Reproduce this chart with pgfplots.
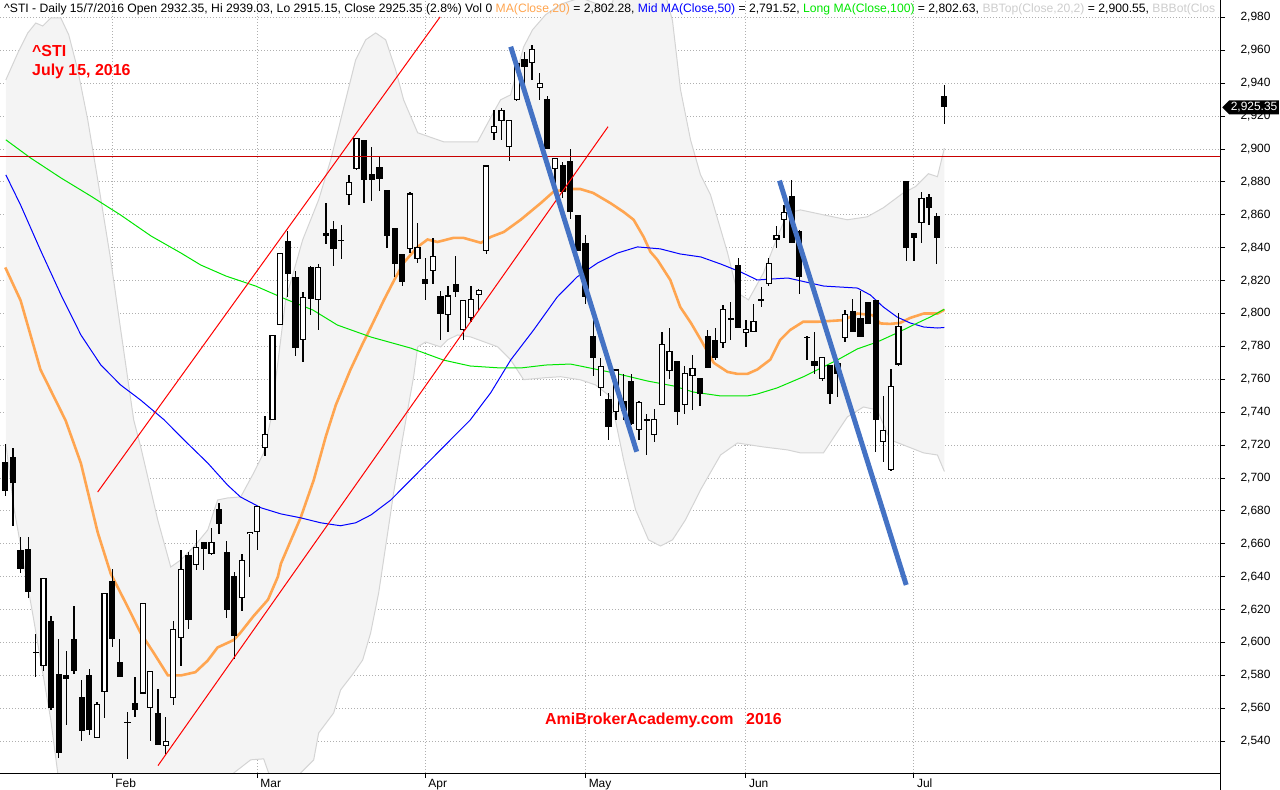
\documentclass[border=0pt]{standalone}
\usepackage{pgfplots}
\pgfplotsset{compat=1.18}
\usepackage{pgfplotstable}
\usepgfplotslibrary{fillbetween}
\usetikzlibrary{shapes.symbols}
\usepackage{fontspec}
\setmainfont{Liberation Sans}
\definecolor{maorange}{RGB}{255,165,80}
\definecolor{mablue}{RGB}{0,0,255}
\definecolor{magreen}{RGB}{0,230,0}
\definecolor{bandfill}{RGB}{244,244,244}
\definecolor{bandline}{RGB}{212,212,212}
\definecolor{trendblue}{RGB}{68,114,196}
\definecolor{gridc}{RGB}{175,175,175}
\definecolor{bbtext}{RGB}{205,205,205}
\definecolor{hlred}{RGB}{200,0,0}

\pgfplotstableread{
i o h l c
0 2710 2721 2689 2692
1 2713 2718 2671 2697
2 2656 2664 2642 2645
3 2657 2664 2627 2631
4 2594.5 2605 2579 2593.5
5 2586 2639 2583 2639
6 2613 2616 2559 2560
7 2581 2602 2530 2533
8 2580 2595 2550 2578
9 2602 2622 2581 2583
10 2567 2577 2540 2546
11 2580 2584 2544 2547
12 2542 2564 2542 2562.5
13 2570 2630 2554 2630
14 2637.5 2645 2597.5 2602
15 2588 2602 2579 2579
16 2552 2558 2529 2551
17 2563 2579 2555 2559
18 2569 2624 2569 2624
19 2560 2583 2540 2583
20 2557 2572 2538 2538
21 2537 2555 2532 2540
22 2566 2613 2562 2608
23 2603 2656 2586 2645
24 2653 2655 2608 2614
25 2647 2668.5 2644 2658
26 2661 2661 2644 2657
27 2654 2669.5 2653 2661
28 2681 2685 2666 2672
29 2655 2662 2615 2620
30 2640.5 2643 2590 2604
31 2627 2654 2619 2650
32 2666 2667.5 2640 2667
33 2667 2683 2656 2683
34 2718 2738 2713.5 2727
35 2735 2787 2735 2787
36 2793 2837 2793 2837
37 2844 2850 2810 2824
38 2822 2826 2774 2779
39 2784 2813 2770.5 2810
40 2828 2829 2799 2809
41 2808 2830 2790 2828.5
42 2849 2867 2842 2847
43 2851.5 2856 2829 2839
44 2845 2854 2833 2844
45 2872 2884 2866 2880
46 2888 2907 2887 2907
47 2905.5 2905.5 2867 2881
48 2885 2901 2868.5 2881
49 2889 2895 2874.5 2882
50 2875 2875 2840 2847
51 2852 2852 2822 2830
52 2836 2836 2817 2819
53 2839 2874 2837 2873
54 2833 2855 2831 2840.6
55 2821 2834 2808 2818
56 2826 2846 2818 2835
57 2810.5 2814 2784 2800
58 2799 2817 2789 2811
59 2818 2835 2810 2813
60 2790 2808.5 2784 2808.5
61 2797 2817 2795 2809
62 2811 2815 2802 2814.5
63 2838 2890 2836 2890
64 2910 2924 2905.5 2914
65 2917 2925 2905.5 2923.6
66 2901 2917.6 2893 2917.6
67 2930 2952 2929 2952
68 2955 2959 2939 2950
69 2952 2963 2942 2961
70 2937 2946 2930 2940
71 2930.6 2932 2900 2900
72 2888 2894.5 2874 2894.5
73 2890 2892 2870 2874
74 2893 2900 2857.6 2862
75 2860 2860 2838 2838
76 2842.6 2848 2806 2810
77 2786.5 2796 2762 2773
78 2755 2773 2750 2768
79 2748 2752 2723 2731
80 2740 2766 2735 2766
81 2747 2763 2735 2741
82 2759 2763 2732 2733
83 2729 2747 2723 2746
84 2736 2739 2714 2735
85 2726 2742 2722 2736
86 2744.5 2788.5 2744.5 2781.5
87 2765 2791 2760 2777
88 2771 2771 2732 2740
89 2744.5 2768 2739 2764
90 2762 2775 2741.5 2767
91 2761 2761 2744 2751
92 2786.5 2790 2766.7 2767
93 2784 2791 2772 2773
94 2782 2805 2779 2803
95 2797 2807 2784 2796
96 2829.5 2834 2791 2791
97 2788 2796 2779.5 2790.6
98 2789 2806 2788.5 2795.6
99 2809 2816 2804 2808
100 2818 2833.5 2817 2831
101 2845 2853 2840 2848
102 2857 2866 2846 2862
103 2871.5 2881 2843 2843
104 2850 2851 2812 2822
105 2786 2786.5 2771.5 2785
106 2771 2788.5 2763 2768
107 2760 2773.5 2759 2773.5
108 2769 2769 2745 2751
109 2770 2773 2749 2763
110 2785 2802 2783 2800
111 2801.6 2809 2788.7 2789
112 2797 2814 2785.7 2786
113 2807 2807 2793.5 2793.5
114 2808 2808 2716 2735
115 2722 2750 2710 2729.5
116 2705 2766 2704 2756
117 2769 2800.6 2768 2792.5
118 2880.6 2880.6 2832 2840
119 2848.7 2849 2832 2845.7
120 2855 2874 2843 2870
121 2871 2872.5 2854 2864
122 2859 2861 2830 2846
123 2932.35 2939.03 2915.15 2925.35
}\candles

\pgfplotstableread{
x y
0.07 2942.0
1.64 2958.4
2.95 2970.6
3.99 2976.6
4.91 2974.8
5.96 2979.7
7.27 2979.7
8.31 2969.4
9.49 2948.1
10.80 2917.7
12.11 2881.2
13.81 2832.6
15.12 2790.0
16.82 2735.3
17.74 2718.9
19.97 2674.5
21.67 2645.9
22.98 2650.2
24.68 2658.1
26.51 2668.4
27.82 2686.7
29.13 2687.9
30.83 2688.5
32.53 2703.1
33.84 2715.3
34.76 2735.3
36.72 2808.3
38.95 2844.8
41.04 2869.1
42.62 2893.4
44.58 2929.9
45.89 2954.2
47.20 2966.4
48.51 2970.6
49.82 2966.4
51.13 2948.1
52.17 2929.9
54.01 2909.9
57.41 2904.4
61.86 2904.4
63.56 2919.0
64.87 2929.9
66.18 2932.9
67.89 2962.1
69.06 2972.5
70.76 2981.6
72.73 2988
75.35 2992
79.28 2985
80.98 3014
82.55 3029
84.25 3020
85.82 3005
87.39 2978
88.44 2936
89.75 2905.6
91.06 2884.3
92.37 2872.1
94.6 2836.9
95.9 2812.6
97.34 2808.3
99.3 2824.7
101.14 2846.6
102.45 2861.2
104.15 2863.0
107.16 2860.0
110.3 2857.0
112.9 2858.8
115.0 2864.3
117.64 2873.4
119.2 2877.1
120.9 2885.0
122.09 2883.2
123.0 2900.55
}\bbtop

\pgfplotstableread{
x y
0.07 2720.7
1.11 2682.4
3.73 2613.7
5.96 2552.9
6.87 2520.7
9.88 2467.8
12.5 2443.5
16.43 2461.8
19.05 2494.6
21.67 2515.3
24.68 2506.2
27.82 2506.2
29.92 2520.7
32.14 2528.7
33.84 2529.3
34.76 2517.2
36.72 2510.0
38.69 2520.7
40.39 2528.6
41.04 2545.0
43.01 2557.2
43.92 2571.2
45.63 2581.5
46.81 2589.4
47.85 2605.8
48.9 2630.1
50.08 2666.6
50.86 2690.9
51.78 2717.1
52.7 2741.4
53.48 2761.5
54.01 2779.7
55.05 2782.7
57.02 2779.7
57.93 2784.0
59.24 2787.0
60.94 2785.8
64.48 2779.8
66.18 2771.9
67.89 2759.8
70.76 2761.0
72.73 2761.6
75.35 2759.7
77.31 2756.6
79.28 2749.4
80.98 2711.1
82.55 2680.7
84.25 2662.4
85.82 2658.7
87.39 2662.4
89.09 2674.6
91.06 2692.8
93.68 2714.0
95.9 2721.3
99.3 2718.9
102.45 2717.1
104.15 2715.3
107.16 2715.3
110.3 2737.2
112.4 2743.2
114.2 2741.4
115.9 2723.2
117.64 2720.1
120.26 2715.3
122.09 2714.0
123.0 2704.0
}\bbbot

\pgfplotstableread{
x y
0 2828
2 2808
4.6 2766
7.9 2735
9.9 2709
12.1 2667
13.8 2642
16 2622
17.7 2606
19.4 2594
21.3 2580
23 2580
24.9 2582
26.5 2589
27.8 2597
29.9 2601.5
30.8 2606
32.5 2616
34.4 2626
35.7 2640
36.1 2648
38.7 2676.1
40.4 2698.8
42 2725.6
43.3 2744.5
45.2 2765.8
46.8 2781.6
47.9 2791.9
49.6 2808.3
50.9 2820
52.2 2831
54 2840.5
55.3 2845
56.6 2843.5
58.7 2846
60 2846
62.3 2843
63.6 2846.6
65.3 2849.6
67.5 2857
70.1 2867
71.8 2874
73.6 2875.7
75.3 2875.7
77 2873.3
79.3 2867
81 2861.7
82.3 2857
83.6 2846.6
84.5 2837.5
85.4 2832.7
87.1 2820.4
88.4 2804
89.8 2794.3
91.1 2784
92.8 2770
94.6 2764.5
95.9 2763.3
97.2 2763.3
98.5 2766
100.2 2772
101.5 2784
102.8 2790
104.5 2795
106.4 2795
108.1 2795.5
109.8 2796
111.6 2800
113.6 2799
114.6 2794
115.9 2793.7
117.2 2794.3
118.5 2797.3
120.3 2800
122.1 2800
123 2802.28
}\maA

\pgfplotstableread{
x y
0.07 2884.3
2.0 2866
4.6 2838.6
7.3 2811.3
9.9 2787
12.5 2768.8
15.1 2756.6
17.7 2747.5
20.8 2735.4
23.4 2723.2
26.5 2709.2
29.1 2695.8
30.8 2688.5
33.5 2681.9
36.1 2678.2
38.7 2675.8
41.3 2672.8
43.9 2671
45.9 2672.8
47.9 2677.6
50.5 2686.7
53.1 2698.9
55.7 2711
58.3 2723.2
60.9 2735.3
63.6 2752
66.2 2771.8
69.2 2790
72.3 2810.1
74.9 2822.3
77.6 2830.8
80.2 2836.8
82.8 2840.5
85.8 2839.3
88.4 2836.2
91.1 2834.4
93.7 2830.1
96.3 2825.3
98.5 2820.4
102.5 2821.6
107.2 2816.7
111.6 2815.5
113.3 2811.3
115.0 2804
116.8 2797.9
118.5 2794.3
120.3 2791.8
122.1 2791.2
123 2791.52
}\maB

\pgfplotstableread{
x y
0.07 2905.6
3.3 2894.6
7.3 2882.4
11.2 2871.4
15.1 2859.9
19.1 2847.1
23.0 2836.8
25.6 2829.5
28.9 2822.8
32.8 2816.7
36.7 2808.8
40.3 2802.1
43.5 2793
47.9 2785.7
53.1 2779
57.4 2771.7
60.9 2768.1
64.9 2766.9
67.5 2766.9
70.8 2768.7
74.0 2769.3
75.3 2768.1
79.7 2763.9
84.1 2759
87.5 2756
90.1 2752.3
93.7 2749.9
97.2 2749.9
98.5 2751.1
101.1 2754.8
104.5 2761.5
109.0 2771.8
111.6 2778.5
114.2 2782.7
116.8 2788.2
119.5 2794.3
121.2 2798
123 2802.63
}\maC

\begin{document}
\begin{tikzpicture}
\begin{axis}[
  set layers,
  scale only axis, width=1220bp, height=773bp,
  at={(0,0)}, anchor=south west,
  xmin=-0.694, xmax=159.1, ymin=2520.7, ymax=2990.6,
  axis x line*=bottom, axis y line*=right,
  axis line style={black, line width=1bp},
  xtick={14,33,55,76,97,119},
  xticklabels={Feb,Mar,Apr,May,Jun,Jul},
  ytick={2540,2560,...,2980},
  tick align=outside, major tick length=5bp,
  tick style={black, line width=1bp},
  xmajorgrids, ymajorgrids,
  grid style={gridc, line width=0.9bp, dash pattern=on 1bp off 2bp},
  ticklabel style={font=\fontsize{12}{14}\selectfont},
  yticklabel style={anchor=west, xshift=12bp},
  xticklabel style={anchor=north west, inner sep=0pt, xshift=3bp, yshift=-1bp},
  /pgf/number format/assume math mode=true,
  /pgf/number format/1000 sep={,},
]
% Bollinger band
\addplot[name path=bbtop, draw=bandline, line width=1bp] table[x=x,y=y] {\bbtop};
\addplot[name path=bbbot, draw=bandline, line width=1bp] table[x=x,y=y] {\bbbot};
\addplot[bandfill, on layer=axis background] fill between[of=bbtop and bbbot];
% moving averages
\addplot[maorange, line width=2.6bp] table[x=x,y=y] {\maA};
\addplot[mablue, line width=1bp] table[x=x,y=y] {\maB};
\addplot[magreen, line width=1bp] table[x=x,y=y] {\maC};
% candles: wicks
\addplot[draw=none, mark=none, error bars/.cd, y dir=both, y explicit, error mark=none,
  error bar style={draw=black, line width=1.3bp}]
  table[x=i, y expr={(\thisrow{h}+\thisrow{l})/2}, y error expr={(\thisrow{h}-\thisrow{l})/2}] {\candles};
% candles: bodies (black outline / filled)
\addplot[draw=none, mark=none, error bars/.cd, y dir=both, y explicit, error mark=none,
  error bar style={draw=black, line width=6.2bp}]
  table[x=i, y expr={(\thisrow{o}+\thisrow{c})/2}, y error expr={max(abs(\thisrow{o}-\thisrow{c})/2,0.5)}] {\candles};
% candles: white interior of rising candles
\addplot[draw=none, mark=none, error bars/.cd, y dir=both, y explicit, error mark=none,
  error bar style={draw=white, line width=3.8bp}]
  table[x=i, y expr={ifthenelse(\thisrow{c}>\thisrow{o},(\thisrow{o}+\thisrow{c})/2,0)},
        y error expr={max(abs(\thisrow{o}-\thisrow{c})/2-0.65,0.1)}] {\candles};
% trend lines
\addplot[red, line width=1bp] coordinates {(12.1,2691.5) (56.95,2980.3)};
\addplot[red, line width=1bp] coordinates {(20.0,2525.2) (78.95,2913.6)};
\addplot[hlred, line width=1bp] coordinates {(-0.694,2895.2) (159.1,2895.2)};
\addplot[trendblue, line width=5bp] coordinates {(66.2,2962.2) (82.7,2716.0)};
\addplot[trendblue, line width=5bp] coordinates {(101.4,2880.8) (118.0,2635)};
% texts
\node[anchor=base west, inner sep=0pt, font=\fontsize{12.2}{14}\selectfont]
  at (rel axis cs:0,1) [xshift=4bp, yshift=-13bp]
  {\textasciicircum STI - Daily 15/7/2016 Open 2932.35, Hi 2939.03, Lo 2915.15, Close 2925.35 (2.8\%) Vol 0 \textcolor{maorange}{MA(Close,20)} = 2,802.28, \textcolor{mablue}{Mid MA(Close,50)} = 2,791.52, \textcolor{magreen}{Long MA(Close,100)} = 2,802.63, \textcolor{bbtext}{BBTop(Close,20,2)} = 2,900.55, \textcolor{bbtext}{BBBot(Clos}};
\node[anchor=base west, inner sep=0pt, text=red, font=\bfseries\fontsize{16}{19}\selectfont]
  at (rel axis cs:0.0262,0.9263) {\textasciicircum STI};
\node[anchor=base west, inner sep=0pt, text=red, font=\bfseries\fontsize{16}{19}\selectfont]
  at (rel axis cs:0.0262,0.9017) {July 15, 2016};
\node[anchor=base west, inner sep=0pt, text=red, font=\bfseries\fontsize{16}{19}\selectfont]
  at (rel axis cs:0.4467,0.0621) {AmiBrokerAcademy.com};
\node[anchor=base west, inner sep=0pt, text=red, font=\bfseries\fontsize{16}{19}\selectfont]
  at (rel axis cs:0.6115,0.0621) {2016};
\coordinate (pm) at (axis cs:159.1,2925.35);
\end{axis}
\draw[line width=1bp] (1220bp,0) -- (1220bp,-17bp);
\node[signal, signal to=west, fill=black, text=white, anchor=west, inner sep=1.5bp,
  minimum height=14bp, font=\fontsize{12}{14}\selectfont] at (pm) [xshift=2bp] {2,925.35};
\pgfresetboundingbox
\useasboundingbox (0,-17bp) rectangle (1280bp,773bp);
\end{tikzpicture}
\end{document}
